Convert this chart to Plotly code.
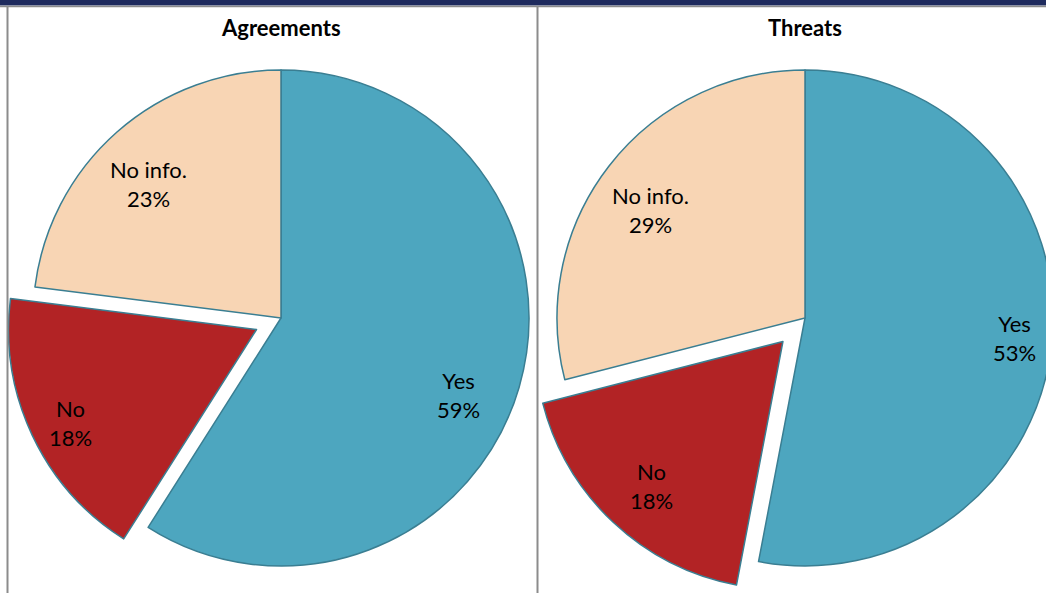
import math
import plotly.graph_objects as go

# --- data -------------------------------------------------------------
categories = ["Yes", "No", "No info."]
agreements = [59, 18, 23]
threats = [53, 18, 29]
panel_titles = ["Agreements", "Threats"]

# --- styling ----------------------------------------------------------
slice_colors = ["#4DA6BF", "#B22325", "#F8D5B4"]
outline_color = "#3A7E92"
label_font = dict(family="Lato", size=22, color="black")

# canvas is a little larger than the visible window so the right-hand
# pie runs off the edge
W, H = 1100, 620
R = 248  # pie radius in px


def px_x(x):
    return x / W


def px_y(y):
    return 1 - y / H


def pie_domain(cx, cy, pull):
    half = R * (1 + pull)
    return dict(
        x=[px_x(cx - half), px_x(cx + half)],
        y=[px_y(cy + half), px_y(cy - half)],
    )


# centre (px), pull of the "No" slice, and per-slice label placement
# (radius as a fraction of R, angular nudge in degrees)
pie_specs = [
    dict(values=agreements, cx=281, cy=318, pull=0.109,
         label_r=[0.78, 0.84, 0.76], label_da=[7.2, -1.6, -3.2]),
    dict(values=threats, cx=805, cy=318, pull=0.13,
         label_r=[0.85, 0.79, 0.76], label_da=[0.0, -0.9, -2.9]),
]

fig = go.Figure()
for spec in pie_specs:
    values = spec["values"]
    pulls = [0, spec["pull"], 0]
    fig.add_trace(
        go.Pie(
            labels=categories,
            values=values,
            sort=False,
            direction="clockwise",
            rotation=0,
            pull=pulls,
            marker=dict(colors=slice_colors, line=dict(color=outline_color, width=1.5)),
            textinfo="none",
            hoverinfo="label+percent",
            showlegend=False,
            domain=pie_domain(spec["cx"], spec["cy"], spec["pull"]),
        )
    )

    # slice labels, placed along each slice's bisector
    total = sum(values)
    start = 0.0
    for label, v, p, fr, da in zip(categories, values, pulls, spec["label_r"], spec["label_da"]):
        mid = math.radians(360.0 * (start + v / 2) / total)
        start += v
        ox = spec["cx"] + p * R * math.sin(mid)
        oy = spec["cy"] - p * R * math.cos(mid)
        a = mid + math.radians(da)
        lx = ox + fr * R * math.sin(a)
        ly = oy - fr * R * math.cos(a)
        fig.add_annotation(
            x=px_x(lx), y=px_y(ly), xref="paper", yref="paper",
            text=f"{label}<br>{v / total:.0%}", showarrow=False,
            font=label_font, xanchor="center", yanchor="middle", align="center",
        )

for title, cx in zip(panel_titles, [281, 805]):
    fig.add_annotation(
        x=px_x(cx), y=px_y(27), xref="paper", yref="paper",
        text=f"<b>{title}</b>", showarrow=False,
        font=dict(family="Lato", size=22, color="black"),
        xanchor="center", yanchor="middle",
    )

shapes = [
    # dark header band
    dict(type="rect", x0=0, x1=1, y0=px_y(5.5), y1=1, fillcolor="#1F2B5E", line_width=0),
    dict(type="line", x0=0, x1=1, y0=px_y(6.5), y1=px_y(6.5), line=dict(color="#8C8C8C", width=1.5)),
    # panel borders
    dict(type="line", x0=px_x(7.5), x1=px_x(7.5), y0=0, y1=px_y(6), line=dict(color="#8C8C8C", width=2)),
    dict(type="line", x0=px_x(537.5), x1=px_x(537.5), y0=0, y1=px_y(6), line=dict(color="#8C8C8C", width=2)),
]
for s in shapes:
    s.update(xref="paper", yref="paper", layer="above")
fig.update_layout(
    shapes=shapes,
    width=W, height=H,
    margin=dict(l=0, r=0, t=0, b=0),
    paper_bgcolor="white", plot_bgcolor="white",
)

fig.write_html(
    "out.html",
    post_script="document.body.style.margin='0';document.body.style.overflow='hidden';",
)
